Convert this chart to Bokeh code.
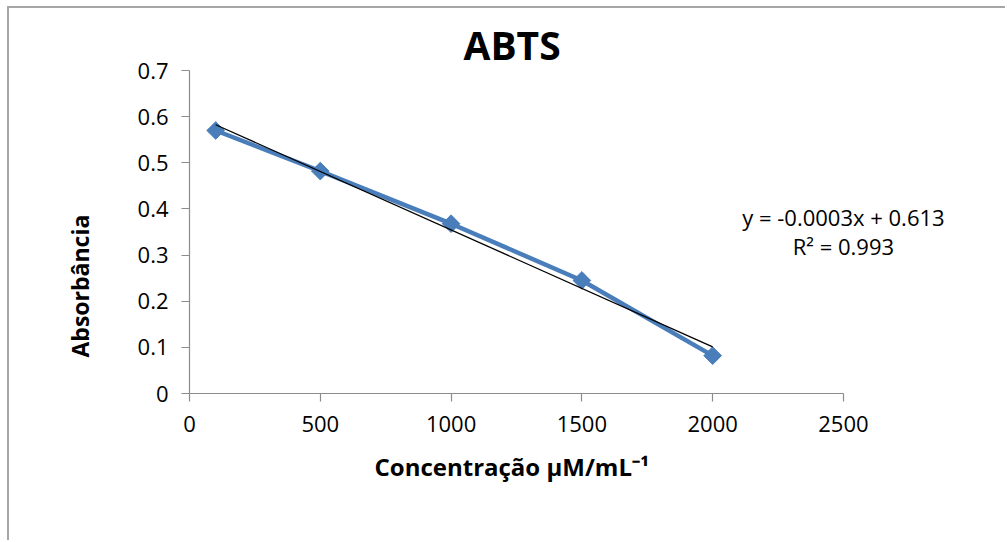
import numpy as np
from bokeh.plotting import figure
from bokeh.models import Range1d, FixedTicker, Label, Title
from bokeh.embed import file_html
from bokeh.resources import INLINE

# ---- data ----
concentration = [100, 500, 1000, 1500, 2000]
absorbance = [0.570, 0.482, 0.368, 0.245, 0.082]
x_ticks = [0, 500, 1000, 1500, 2000, 2500]
y_ticks = [0, 0.1, 0.2, 0.3, 0.4, 0.5, 0.6, 0.7]
y_tick_labels = ["0", "0.1", "0.2", "0.3", "0.4", "0.5", "0.6", "0.7"]
title_text = "ABTS"
x_label = "Concentração μM/mL⁻¹"
y_label = "Absorbância"
equation_text = "y = -0.0003x + 0.613"
r2_text = "R² = 0.993"

FONT = "Open Sans"
BLUE = "#4a7ebb"
AXIS = "#8c8c8c"

# frame spans past the x axis end so the equation text is not clipped;
# the axis itself is bounded to 0..2500
p = figure(width=998, height=534, output_backend="svg", toolbar_location=None,
           x_range=Range1d(0, 3089), y_range=Range1d(0, 0.7),
           min_border_left=180, min_border_top=62, min_border_bottom=149,
           min_border_right=10)
p.styles = {"margin-left": "7px", "margin-top": "6px",
            "border-left": "2px solid #a6a6a6", "border-top": "2px solid #a6a6a6"}

p.outline_line_color = None
p.xgrid.visible = False
p.ygrid.visible = False
p.background_fill_color = "white"
p.border_fill_color = "white"

# title
p.title.text = title_text
p.title.text_font = FONT
p.title.text_font_style = "bold"
p.title.text_font_size = "39px"
p.title.text_color = "black"
p.title.align = "left"
p.title.offset = 274
p.title.standoff = 0
p.title.vertical_align = "bottom"
p.title.text_line_height = 0.85

# axes
for ax in (p.xaxis[0], p.yaxis[0]):
    ax.axis_line_color = AXIS
    ax.axis_line_width = 1.2
    ax.major_tick_line_color = AXIS
    ax.major_tick_line_width = 1.2
    ax.major_tick_in = 0
    ax.major_tick_out = 8
    ax.minor_tick_line_color = None
    ax.major_label_text_font = FONT
    ax.major_label_text_font_size = "22px"
    ax.major_label_text_color = "black"

p.xaxis.bounds = (0, 2500)
p.xaxis.ticker = FixedTicker(ticks=x_ticks)
p.yaxis.ticker = FixedTicker(ticks=y_ticks)
p.yaxis.major_label_overrides = {t: l for t, l in zip(y_ticks, y_tick_labels)}
p.xaxis.major_label_standoff = 14
p.yaxis.major_label_standoff = 13

# axis titles (as side titles so they can be positioned like Excel's)
xt = Title(text=x_label, text_font=FONT, text_font_size="24px", text_font_style="bold",
           text_color="black", align="left", offset=185, standoff=26)
p.add_layout(xt, "below")
yt = Title(text=y_label, text_font=FONT, text_font_size="23px", text_font_style="bold",
           text_color="black", align="left", offset=36, standoff=78)
p.add_layout(yt, "left")

# data series
p.line(concentration, absorbance, line_color=BLUE, line_width=4.5)
p.scatter(concentration, absorbance, marker="square", angle=np.pi / 4, size=12.5,
          fill_color=BLUE, line_color=BLUE)

# linear trend line (least-squares fit of the series)
slope, intercept = np.polyfit(concentration, absorbance, 1)
tx = [min(concentration), max(concentration)]
ty = [slope * v + intercept for v in tx]
p.line(tx, ty, line_color="black", line_width=1.3)

# equation labels
p.add_layout(Label(x=2500, y=0.3825, text=equation_text, text_align="center",
                   text_baseline="middle", text_font=FONT, text_font_size="22px",
                   text_color="black"))
p.add_layout(Label(x=2500, y=0.32, text=r2_text, text_align="center",
                   text_baseline="middle", text_font=FONT, text_font_size="22px",
                   text_color="black"))

open("out.html", "w").write(file_html(p, INLINE))
